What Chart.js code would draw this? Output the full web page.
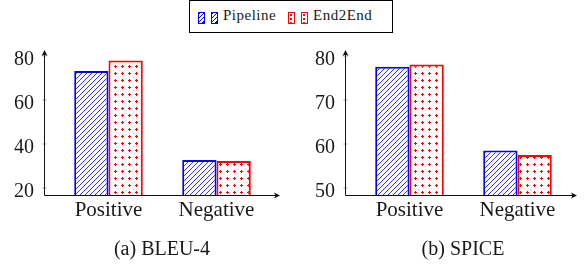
<!DOCTYPE html>
<html>
<head>
<meta charset="utf-8">
<script src="https://cdn.jsdelivr.net/npm/chart.js@4"></script>
<style>
  html, body { margin: 0; padding: 0; background: #fff; }
  body { width: 586px; height: 266px; position: relative; overflow: hidden; font-family: 'Liberation Serif', 'DejaVu Serif', serif; color: #1a1a1a; }
  canvas { position: absolute; top: 0; }
  #legend { position: absolute; left: 189px; top: 0; width: 202px; height: 31px; border: 1px solid #000; }
  .sw { position: absolute; top: 11px; width: 5px; height: 10px; }
  .sw.blue { border: 1.2px solid #0000ff; background: repeating-linear-gradient(135deg, #0000ff 0 1px, #fff 1px 3px); }
  .sw.red  { border: 1.2px solid #ff0000; background: #fff radial-gradient(circle, #ff0000 0.7px, transparent 1.1px) 0 0 / 4px 4px; }
  .lt { position: absolute; top: 6px; font-size: 15px; letter-spacing: 0.5px; }
  .cap { position: absolute; top: 237px; width: 200px; text-align: center; font-size: 20px; }
</style>
</head>
<body>
<div id="legend">
  <div class="sw blue" style="left:8px"></div>
  <div class="sw blue" style="left:21px"></div>
  <div class="lt" style="left:33px">Pipeline</div>
  <div class="sw red" style="left:98px"></div>
  <div class="sw red" style="left:111px"></div>
  <div class="lt" style="left:123px">End2End</div>
</div>
<canvas id="chart-bleu" width="293" height="266" style="left:0"></canvas>
<canvas id="chart-spice" width="293" height="266" style="left:293px"></canvas>
<div class="cap" style="left:62px">(a) BLEU-4</div>
<div class="cap" style="left:363px">(b) SPICE</div>

<script>
// ------------------------------------------
// Datos
// ------------------------------------------
const CATEGORIAS     = ['Positive', 'Negative'];
const SERIES         = ['Pipeline', 'End2End'];
const BLEU_PIPELINE  = [73.2, 32.7];
const BLEU_END2END   = [77.9, 32.3];
const SPICE_PIPELINE = [77.6, 58.5];
const SPICE_END2END  = [78.1, 57.5];
const BLEU_TICKS     = [20, 40, 60, 80];
const SPICE_TICKS    = [50, 60, 70, 80];

const AZUL = '#0000ff';
const ROJO = '#ff0000';
const FUENTE = "'Liberation Serif', 'DejaVu Serif', serif";

// rayado "north east lines"
function patronRayas() {
  const s = 5;
  const c = document.createElement('canvas');
  c.width = s; c.height = s;
  const g = c.getContext('2d');
  g.fillStyle = '#fff'; g.fillRect(0, 0, s, s);
  g.strokeStyle = AZUL; g.lineWidth = 0.8;
  g.beginPath();
  g.moveTo(-1, s + 1); g.lineTo(s + 1, -1);
  g.moveTo(-1, 1); g.lineTo(1, -1);
  g.moveTo(s - 1, s + 1); g.lineTo(s + 1, s - 1);
  g.stroke();
  return g.createPattern(c, 'repeat');
}

// puntos
function patronPuntos() {
  const s = 7;
  const c = document.createElement('canvas');
  c.width = s; c.height = s;
  const g = c.getContext('2d');
  g.fillStyle = '#fff'; g.fillRect(0, 0, s, s);
  g.fillStyle = ROJO;
  g.fillRect(3, 2, 1, 3);
  g.fillRect(2, 3, 3, 1);
  return g.createPattern(c, 'repeat');
}

// ejes con flecha, estilo pgfplots
const ejesFlecha = {
  id: 'ejesFlecha',
  afterDatasetsDraw(chart, args, opts) {
    const { ctx, chartArea: a } = chart;
    const x0 = Math.round(a.left - opts.extendLeft) + 0.5;
    const x1 = a.right + opts.extendRight;
    const y0 = Math.round(a.bottom) + 0.5;
    const y1 = a.top;
    ctx.save();
    ctx.strokeStyle = '#111';
    ctx.fillStyle = '#111';
    ctx.lineWidth = 1;
    ctx.beginPath();
    ctx.moveTo(x0, y0); ctx.lineTo(x1 - 3, y0);
    ctx.moveTo(x0, y0); ctx.lineTo(x0, y1 + 3);
    ctx.stroke();
    // flecha x
    ctx.beginPath();
    ctx.moveTo(x1, y0); ctx.lineTo(x1 - 6, y0 - 3); ctx.lineTo(x1 - 4.5, y0); ctx.lineTo(x1 - 6, y0 + 3);
    ctx.closePath(); ctx.fill();
    // flecha y
    ctx.beginPath();
    ctx.moveTo(x0, y1); ctx.lineTo(x0 - 3, y1 + 6); ctx.lineTo(x0, y1 + 4.5); ctx.lineTo(x0 + 3, y1 + 6);
    ctx.closePath(); ctx.fill();
    // marcas
    const ys = chart.scales.y;
    ctx.lineWidth = 0.6;
    ctx.strokeStyle = '#555';
    ys.ticks.forEach(t => {
      const y = ys.getPixelForValue(t.value);
      ctx.beginPath(); ctx.moveTo(x0 - 2, y); ctx.lineTo(x0 + 2, y); ctx.stroke();
    });
    ctx.restore();
  }
};

function renderBarras(id, pipeline, end2end, ticks, yMin, yMax, cfg) {
  const ctx = document.getElementById(id);
  return new Chart(ctx, {
    type: 'bar',
    data: {
      labels: CATEGORIAS,
      datasets: [
        { label: SERIES[0], data: pipeline, backgroundColor: patronRayas(), borderColor: AZUL, borderWidth: 2, borderSkipped: false },
        { label: SERIES[1], data: end2end,  backgroundColor: patronPuntos(), borderColor: ROJO, borderWidth: 2, borderSkipped: false },
      ]
    },
    options: {
      responsive: false,
      animation: false,
      devicePixelRatio: 1,
      categoryPercentage: 0.635,
      barPercentage: 1,
      layout: { padding: { left: 0, right: cfg.padRight, top: 50, bottom: 0 } },
      plugins: {
        legend: { display: false },
        tooltip: { enabled: false },
        ejesFlecha: { extendLeft: cfg.extendLeft, extendRight: cfg.extendRight }
      },
      scales: {
        x: {
          offset: true,
          grid: { display: false, drawTicks: false },
          border: { display: false },
          ticks: { color: '#1a1a1a', padding: 3, font: { family: FUENTE, size: 21 } },
          afterFit: s => { s.height = 266 - 195; }
        },
        y: {
          min: yMin,
          max: yMax,
          grid: { display: false, drawTicks: false },
          border: { display: false },
          ticks: { color: '#1a1a1a', padding: cfg.extendLeft + 10, labelOffset: 4, font: { family: FUENTE, size: 20 } },
          afterBuildTicks: s => { s.ticks = ticks.map(v => ({ value: v })); },
          afterFit: s => { s.width = cfg.axisWidth; }
        }
      }
    },
    plugins: [ejesFlecha]
  });
}

renderBarras('chart-bleu', BLEU_PIPELINE, BLEU_END2END, BLEU_TICKS, 16.8, 82.7,
  { axisWidth: 54.5, padRight: 22.5, extendLeft: 10.5, extendRight: 9.5 });
renderBarras('chart-spice', SPICE_PIPELINE, SPICE_END2END, SPICE_TICKS, 48.4, 81.4,
  { axisWidth: 62.5, padRight: 14.5, extendLeft: 10.5, extendRight: 5.5 });
</script>
</body>
</html>
